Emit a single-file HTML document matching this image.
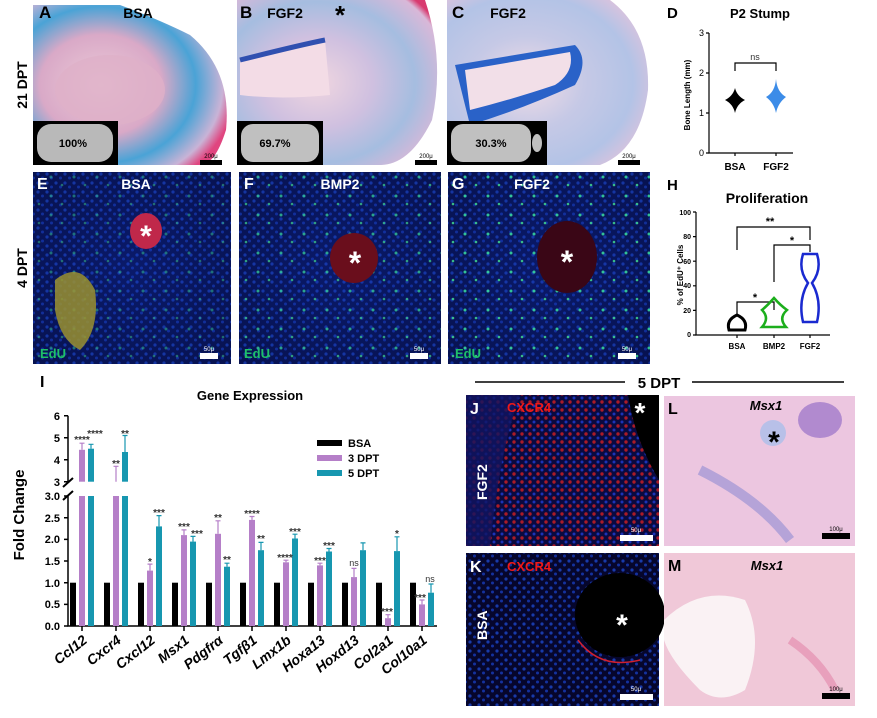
<!DOCTYPE html>
<html><head><meta charset="utf-8"><style>
body{margin:0;background:#fff;}
svg{display:block;font-family:"Liberation Sans",Arial,sans-serif;}
</style></head><body>
<svg width="877" height="718" viewBox="0 0 877 718" xmlns="http://www.w3.org/2000/svg">
<defs>
<radialGradient id="hA" cx="0.35" cy="0.5" r="0.7"><stop offset="0" stop-color="#eccbd8"/><stop offset="0.45" stop-color="#d9a9c7"/><stop offset="0.7" stop-color="#4aa3d6"/><stop offset="0.9" stop-color="#c9b3d6"/><stop offset="1" stop-color="#e0457f"/></radialGradient>
<radialGradient id="hB" cx="0.4" cy="0.5" r="0.7"><stop offset="0" stop-color="#f0d6e0"/><stop offset="0.4" stop-color="#cfc0e0"/><stop offset="0.7" stop-color="#a5bde0"/><stop offset="0.95" stop-color="#d9b8d8"/><stop offset="1" stop-color="#d83a6f"/></radialGradient>
<radialGradient id="hC" cx="0.4" cy="0.5" r="0.7"><stop offset="0" stop-color="#f2dde6"/><stop offset="0.4" stop-color="#c6c9e6"/><stop offset="0.75" stop-color="#b3c3e6"/><stop offset="0.95" stop-color="#dcc3dd"/><stop offset="1" stop-color="#d84a7a"/></radialGradient>
<radialGradient id="fl" cx="0.5" cy="0.5" r="0.7"><stop offset="0" stop-color="#0a1a6a"/><stop offset="1" stop-color="#071250"/></radialGradient>
<pattern id="dots" width="9" height="9" patternUnits="userSpaceOnUse"><circle cx="2" cy="3" r="1.6" fill="#2050e0"/><circle cx="6.5" cy="7" r="1.5" fill="#1a44d0"/></pattern>
<pattern id="gdots" width="23" height="19" patternUnits="userSpaceOnUse"><circle cx="5" cy="6" r="1.5" fill="#39e0a0"/><circle cx="16" cy="14" r="1.3" fill="#40d890"/></pattern>
<pattern id="rdots" width="8" height="8" patternUnits="userSpaceOnUse"><circle cx="2" cy="2" r="1.7" fill="#e02020"/><circle cx="6" cy="6" r="1.5" fill="#2040e0"/></pattern>
</defs>

<!-- Row 1 histology -->
<rect x="33" y="5" width="200" height="160" fill="#fff"/>
<path d="M33 5 L120 5 Q160 20 190 35 Q232 70 226 130 Q215 165 200 165 L33 165 Z" fill="url(#hA)"/>
<ellipse cx="110" cy="90" rx="55" ry="35" fill="#dfb0c8" opacity="0.8"/>
<rect x="33" y="121" width="85" height="44" fill="#000"/>
<rect x="37" y="124" width="76" height="38" rx="14" fill="#b9b9b9"/>
<text x="73" y="147" font-size="11" font-weight="bold" text-anchor="middle">100%</text>
<text x="39" y="18" font-size="17" font-weight="bold">A</text>
<text x="138" y="18" font-size="14" font-weight="bold" text-anchor="middle">BSA</text>
<rect x="200" y="160" width="22" height="5" fill="#000"/><text x="211" y="158" font-size="6" text-anchor="middle">200μ</text>

<rect x="237" y="0" width="203" height="165" fill="#fff"/>
<path d="M237 0 L425 0 Q445 60 432 120 Q410 165 380 165 L237 165 Z" fill="url(#hB)"/>
<path d="M240 60 Q300 45 325 40 L330 95 Q280 100 240 95 Z" fill="#f3dce6"/>
<path d="M240 60 Q300 45 325 40" stroke="#3050b0" stroke-width="5" fill="none"/>
<rect x="237" y="121" width="86" height="44" fill="#000"/>
<rect x="241" y="124" width="78" height="38" rx="12" fill="#c0c0c0"/>
<text x="275" y="147" font-size="11" font-weight="bold" text-anchor="middle">69.7%</text>
<text x="240" y="18" font-size="17" font-weight="bold">B</text>
<text x="285" y="18" font-size="14" font-weight="bold" text-anchor="middle">FGF2</text>
<text x="340" y="24" font-size="26" font-weight="bold" text-anchor="middle">*</text>
<rect x="415" y="160" width="22" height="5" fill="#000"/><text x="426" y="158" font-size="6" text-anchor="middle">200μ</text>

<rect x="447" y="0" width="203" height="165" fill="#fff"/>
<path d="M447 0 L610 0 Q650 30 648 90 Q640 150 600 165 L447 165 Z" fill="url(#hC)"/>
<path d="M455 65 L575 45 Q590 60 575 85 Q520 110 470 125 Z" fill="#2a62c8"/>
<path d="M465 70 L570 52 Q575 72 555 85 Q510 100 470 110 Z" fill="#f2dfe8"/>
<rect x="447" y="121" width="100" height="44" fill="#000"/>
<rect x="451" y="124" width="80" height="38" rx="12" fill="#c0c0c0"/>
<ellipse cx="537" cy="143" rx="5" ry="9" fill="#c0c0c0"/>
<text x="491" y="147" font-size="11" font-weight="bold" text-anchor="middle">30.3%</text>
<text x="452" y="18" font-size="17" font-weight="bold">C</text>
<text x="508" y="18" font-size="14" font-weight="bold" text-anchor="middle">FGF2</text>
<rect x="618" y="160" width="22" height="5" fill="#000"/><text x="629" y="158" font-size="6" text-anchor="middle">200μ</text>

<text transform="translate(27,85) rotate(-90)" font-size="14" font-weight="bold" text-anchor="middle">21 DPT</text>
<text transform="translate(27,268) rotate(-90)" font-size="14" font-weight="bold" text-anchor="middle">4 DPT</text>

<!-- Row 2 fluorescence -->
<rect x="33" y="172" width="198" height="192" fill="url(#fl)"/><rect x="33" y="172" width="198" height="192" fill="url(#dots)" opacity="0.55"/><rect x="33" y="172" width="198" height="192" fill="url(#gdots)" opacity="0.45"/>
<path d="M55 280 Q80 260 95 290 Q100 330 80 350 Q60 340 55 310 Z" fill="#9a9030" opacity="0.85"/>
<ellipse cx="146" cy="231" rx="16" ry="18" fill="#c0284a"/>
<text x="146" y="246" font-size="30" font-weight="bold" fill="#fff" text-anchor="middle">*</text>
<text x="37" y="189" font-size="16" font-weight="bold" fill="#fff">E</text>
<text x="136" y="189" font-size="14" font-weight="bold" fill="#fff" text-anchor="middle">BSA</text>
<text x="40" y="358" font-size="13" font-weight="bold" fill="#1ec06a">EdU</text>
<rect x="200" y="353" width="18" height="6" fill="#fff"/><text x="209" y="351" font-size="6" fill="#fff" text-anchor="middle">50μ</text>

<rect x="239" y="172" width="202" height="192" fill="url(#fl)"/><rect x="239" y="172" width="202" height="192" fill="url(#dots)" opacity="0.55"/><rect x="239" y="172" width="202" height="192" fill="url(#gdots)" opacity="0.7"/>
<ellipse cx="354" cy="258" rx="24" ry="25" fill="#6a0e1c"/>
<text x="355" y="274" font-size="32" font-weight="bold" fill="#fff" text-anchor="middle">*</text>
<text x="244" y="189" font-size="16" font-weight="bold" fill="#fff">F</text>
<text x="340" y="189" font-size="14" font-weight="bold" fill="#fff" text-anchor="middle">BMP2</text>
<text x="244" y="358" font-size="13" font-weight="bold" fill="#1ec06a">EdU</text>
<rect x="410" y="353" width="18" height="6" fill="#fff"/><text x="419" y="351" font-size="6" fill="#fff" text-anchor="middle">50μ</text>

<rect x="448" y="172" width="202" height="192" fill="url(#fl)"/><rect x="448" y="172" width="202" height="192" fill="url(#dots)" opacity="0.55"/><rect x="448" y="172" width="202" height="192" fill="url(#gdots)" opacity="0.85"/>
<ellipse cx="567" cy="257" rx="30" ry="36" fill="#3a0616"/>
<text x="567" y="273" font-size="32" font-weight="bold" fill="#fff" text-anchor="middle">*</text>
<text x="452" y="189" font-size="16" font-weight="bold" fill="#fff">G</text>
<text x="532" y="189" font-size="14" font-weight="bold" fill="#fff" text-anchor="middle">FGF2</text>
<text x="455" y="358" font-size="13" font-weight="bold" fill="#1ec06a">EdU</text>
<rect x="618" y="353" width="18" height="6" fill="#fff"/><text x="627" y="351" font-size="6" fill="#fff" text-anchor="middle">50μ</text>

<!-- Panel D -->
<text x="667" y="18" font-size="15" font-weight="bold">D</text>
<text x="760" y="18" font-size="13" font-weight="bold" text-anchor="middle">P2 Stump</text>
<g stroke="#000" stroke-width="1.2" fill="none">
<path d="M709 33 V153 H793"/>
<path d="M706 33 H709 M706 73 H709 M706 113 H709 M706 153 H709"/>
<path d="M735 153 V156 M776 153 V156"/>
<path d="M735 71 V63 H776 V71"/>
</g>
<g font-size="9" text-anchor="end"><text x="704" y="36">3</text><text x="704" y="76">2</text><text x="704" y="116">1</text><text x="704" y="156">0</text></g>
<text x="755" y="60" font-size="9" text-anchor="middle" fill="#333">ns</text>
<path d="M735 88 Q737 96 745 100 Q737 104 735 113 Q733 104 725 100 Q733 96 735 88 Z" fill="#000"/>
<path d="M776 79 Q777 92 786 97 Q778 103 776 113 Q774 103 766 97 Q775 92 776 79 Z" fill="#3c8ce8"/>
<text x="735" y="170" font-size="10" font-weight="bold" text-anchor="middle">BSA</text>
<text x="776" y="170" font-size="10" font-weight="bold" text-anchor="middle">FGF2</text>
<text transform="translate(690,95) rotate(-90)" font-size="8" font-weight="bold" text-anchor="middle">Bone Length (mm)</text>

<!-- Panel H -->
<text x="667" y="190" font-size="15" font-weight="bold">H</text>
<text x="767" y="203" font-size="14" font-weight="bold" text-anchor="middle">Proliferation</text>
<g stroke="#000" stroke-width="1.2" fill="none">
<path d="M696 212 V335 H830"/>
<path d="M693 212 H696 M693 236.6 H696 M693 261.2 H696 M693 285.8 H696 M693 310.4 H696 M693 335 H696"/>
<path d="M737 335 V338 M774 335 V338 M810 335 V338"/>
<path d="M737 250 V227 H810 V240"/>
<path d="M774 282 V245 H810 V252"/>
<path d="M737 316 V302 H774 V310"/>
</g>
<g font-size="7" font-weight="bold" text-anchor="end"><text x="691" y="215">100</text><text x="691" y="239">80</text><text x="691" y="264">60</text><text x="691" y="288">40</text><text x="691" y="313">20</text><text x="691" y="337">0</text></g>
<text x="770" y="225" font-size="11" font-weight="bold" text-anchor="middle">**</text>
<text x="792" y="244" font-size="11" font-weight="bold" text-anchor="middle">*</text>
<text x="755" y="301" font-size="11" font-weight="bold" text-anchor="middle">*</text>
<path d="M737 315 Q748 320 745 330 L729 330 Q726 320 737 315 Z" fill="none" stroke="#000" stroke-width="3"/>
<path d="M774 298 Q780 305 787 310 Q778 318 786 327 L762 327 Q770 318 762 310 Q768 305 774 298 Z" fill="none" stroke="#1cae1c" stroke-width="2.5"/>
<path d="M803 254 H817 Q822 270 812 283 Q822 300 817 322 H803 Q798 300 808 283 Q798 270 803 254 Z" fill="none" stroke="#1a2ad0" stroke-width="2.5"/>
<text x="737" y="349" font-size="8" font-weight="bold" text-anchor="middle">BSA</text>
<text x="774" y="349" font-size="8" font-weight="bold" text-anchor="middle">BMP2</text>
<text x="810" y="349" font-size="8" font-weight="bold" text-anchor="middle">FGF2</text>
<text transform="translate(683,275) rotate(-90)" font-size="8" font-weight="bold" text-anchor="middle">% of EdU⁺ Cells</text>

<!-- Panel I -->
<text x="40" y="387" font-size="16" font-weight="bold">I</text>
<text x="250" y="400" font-size="13" font-weight="bold" text-anchor="middle">Gene Expression</text>
<text transform="translate(24,515) rotate(-90)" font-size="15" font-weight="bold" text-anchor="middle">Fold Change</text>
<g stroke="#000" stroke-width="1.5" fill="none">
<path d="M68 415.7 V482 M68 495 V626 H437"/>
<path d="M64 415.7 H68 M64 437.7 H68 M64 459.7 H68 M64 481.7 H68"/>
<path d="M64 496 H68 M64 517.7 H68 M64 539.4 H68 M64 561 H68 M64 582.7 H68 M64 604.4 H68 M64 626 H68"/>
<path d="M63 487 L73 478 M63 500 L73 491" stroke-width="2"/>
<path d="M82 626 V631 M116 626 V631 M150 626 V631 M184 626 V631 M218 626 V631 M252 626 V631 M286 626 V631 M320 626 V631 M354 626 V631 M388 626 V631 M422 626 V631"/>
</g>
<g font-size="11" font-weight="bold" text-anchor="end">
<text x="60" y="420">6</text><text x="60" y="442">5</text><text x="60" y="464">4</text><text x="60" y="486">3</text>
<text x="60" y="500">3.0</text><text x="60" y="522">2.5</text><text x="60" y="543">2.0</text><text x="60" y="565">1.5</text><text x="60" y="587">1.0</text><text x="60" y="608">0.5</text><text x="60" y="630">0.0</text>
</g>
<g fill="#000">
<rect x="70" y="582.7" width="6" height="43.3"/><rect x="104" y="582.7" width="6" height="43.3"/><rect x="138" y="582.7" width="6" height="43.3"/><rect x="172" y="582.7" width="6" height="43.3"/><rect x="206" y="582.7" width="6" height="43.3"/><rect x="240" y="582.7" width="6" height="43.3"/><rect x="274" y="582.7" width="6" height="43.3"/><rect x="308" y="582.7" width="6" height="43.3"/><rect x="342" y="582.7" width="6" height="43.3"/><rect x="376" y="582.7" width="6" height="43.3"/><rect x="410" y="582.7" width="6" height="43.3"/>
</g>
<g fill="#b57fc8">
<rect x="79" y="449.8" width="6" height="31.9"/><rect x="79" y="496" width="6" height="130"/>
<rect x="113" y="496" width="6" height="130"/>
<rect x="147" y="570.6" width="6" height="55.4"/>
<rect x="181" y="535.1" width="6" height="90.9"/>
<rect x="215" y="533.8" width="6" height="92.2"/>
<rect x="249" y="519.9" width="6" height="106.1"/>
<rect x="283" y="562.3" width="6" height="63.7"/>
<rect x="317" y="565.4" width="6" height="60.6"/>
<rect x="351" y="577.1" width="6" height="48.9"/>
<rect x="385" y="618.2" width="6" height="7.8"/>
<rect x="419" y="604.4" width="6" height="21.6"/>
</g>
<g stroke="#b57fc8" stroke-width="1.2">
<path d="M82 449.8 V443.2 M79.5 443.2 H84.5"/><path d="M116 481.7 V466.3 M113.5 466.3 H118.5"/><path d="M150 570.6 V564.1 M147.5 564.1 H152.5"/><path d="M184 535.1 V529.9 M181.5 529.9 H186.5"/><path d="M218 533.8 V520.8 M215.5 520.8 H220.5"/><path d="M252 519.9 V516.5 M249.5 516.5 H254.5"/><path d="M286 562.3 V560.2 M283.5 560.2 H288.5"/><path d="M320 565.4 V563.2 M317.5 563.2 H322.5"/><path d="M354 577.1 V568.4 M351.5 568.4 H356.5"/><path d="M388 618.2 V614.7 M385.5 614.7 H390.5"/><path d="M422 604.4 V600 M419.5 600 H424.5"/>
</g>
<g fill="#1797b0">
<rect x="88" y="448.7" width="6" height="33"/><rect x="88" y="496" width="6" height="130"/>
<rect x="122" y="452" width="6" height="29.7"/><rect x="122" y="496" width="6" height="130"/>
<rect x="156" y="526.4" width="6" height="99.6"/>
<rect x="190" y="541.6" width="6" height="84.4"/>
<rect x="224" y="566.7" width="6" height="59.3"/>
<rect x="258" y="550.2" width="6" height="75.8"/>
<rect x="292" y="538.5" width="6" height="87.5"/>
<rect x="326" y="551.5" width="6" height="74.5"/>
<rect x="360" y="550.2" width="6" height="75.8"/>
<rect x="394" y="551.1" width="6" height="74.9"/>
<rect x="428" y="592.7" width="6" height="33.3"/>
</g>
<g stroke="#1797b0" stroke-width="1.2">
<path d="M91 448.7 V444.3 M88.5 444.3 H93.5"/><path d="M125 452 V435.5 M122.5 435.5 H127.5"/><path d="M159 526.4 V515.6 M156.5 515.6 H161.5"/><path d="M193 541.6 V536.4 M190.5 536.4 H195.5"/><path d="M227 566.7 V563.2 M224.5 563.2 H229.5"/><path d="M261 550.2 V542.4 M258.5 542.4 H263.5"/><path d="M295 538.5 V534.2 M292.5 534.2 H297.5"/><path d="M329 551.5 V548.5 M326.5 548.5 H331.5"/><path d="M363 550.2 V542.9 M360.5 542.9 H365.5"/><path d="M397 551.1 V536.8 M394.5 536.8 H399.5"/><path d="M431 592.7 V584 M428.5 584 H433.5"/>
</g>
<g font-size="10" font-weight="bold" fill="#333" text-anchor="middle">
<text x="82" y="443">****</text><text x="95" y="437">****</text>
<text x="116" y="467">**</text><text x="125" y="437">**</text>
<text x="150" y="565">*</text><text x="159" y="516">***</text>
<text x="184" y="530">***</text><text x="197" y="537">***</text>
<text x="218" y="521">**</text><text x="227" y="563">**</text>
<text x="252" y="517">****</text><text x="261" y="542">**</text>
<text x="285" y="561">****</text><text x="295" y="535">***</text>
<text x="320" y="564">***</text><text x="329" y="549">***</text>
<text x="387" y="615">***</text><text x="397" y="537">*</text>
<text x="420" y="601">***</text>
</g>
<text x="354" y="566" font-size="9" fill="#333" text-anchor="middle">ns</text>
<text x="430" y="582" font-size="9" fill="#333" text-anchor="middle">ns</text>
<rect x="317" y="440" width="25" height="6" fill="#000"/><text x="348" y="447" font-size="11" font-weight="bold">BSA</text>
<rect x="317" y="455" width="25" height="6" fill="#b57fc8"/><text x="348" y="462" font-size="11" font-weight="bold">3 DPT</text>
<rect x="317" y="470" width="25" height="6" fill="#1797b0"/><text x="348" y="477" font-size="11" font-weight="bold">5 DPT</text>
<g font-size="14" font-weight="bold" font-style="italic" text-anchor="end">
<text transform="translate(88,642) rotate(-38)">Ccl12</text>
<text transform="translate(122,642) rotate(-38)">Cxcr4</text>
<text transform="translate(156,642) rotate(-38)">Cxcl12</text>
<text transform="translate(190,642) rotate(-38)">Msx1</text>
<text transform="translate(224,642) rotate(-38)">Pdgfrα</text>
<text transform="translate(258,642) rotate(-38)">Tgfβ1</text>
<text transform="translate(292,642) rotate(-38)">Lmx1b</text>
<text transform="translate(326,642) rotate(-38)">Hoxa13</text>
<text transform="translate(360,642) rotate(-38)">Hoxd13</text>
<text transform="translate(394,642) rotate(-38)">Col2a1</text>
<text transform="translate(428,642) rotate(-38)">Col10a1</text>
</g>

<line x1="475" y1="382" x2="625" y2="382" stroke="#000" stroke-width="1.5"/>
<line x1="692" y1="382" x2="844" y2="382" stroke="#000" stroke-width="1.5"/>
<text x="659" y="388" font-size="15" font-weight="bold" text-anchor="middle">5 DPT</text>

<!-- J -->
<rect x="466" y="395" width="193" height="151" fill="#0a0a40"/>
<rect x="466" y="395" width="193" height="151" fill="url(#rdots)" opacity="0.75"/>
<path d="M466 395 H520 Q500 450 490 546 H466 Z" fill="#101460" opacity="0.8"/>
<path d="M628 395 H659 V480 Q635 440 628 395 Z" fill="#000"/>
<text x="470" y="414" font-size="16" font-weight="bold" fill="#fff">J</text>
<text x="507" y="412" font-size="13" font-weight="bold" fill="#f01818">CXCR4</text>
<text x="640" y="422" font-size="28" font-weight="bold" fill="#fff" text-anchor="middle">*</text>
<text transform="translate(487,500) rotate(-90)" font-size="14" font-weight="bold" fill="#fff">FGF2</text>
<rect x="620" y="535" width="33" height="6" fill="#fff"/><text x="636" y="532" font-size="6" fill="#fff" text-anchor="middle">50μ</text>

<!-- L -->
<rect x="664" y="396" width="191" height="150" fill="#ecc6e0"/>
<ellipse cx="820" cy="420" rx="22" ry="18" fill="#9870c8" opacity="0.7"/>
<path d="M700 470 Q760 500 790 540" stroke="#7d80d0" stroke-width="10" fill="none" opacity="0.5"/>
<circle cx="773" cy="433" r="13" fill="#b8c0e8"/>
<text x="774" y="452" font-size="30" font-weight="bold" text-anchor="middle">*</text>
<text x="668" y="414" font-size="16" font-weight="bold">L</text>
<text x="766" y="410" font-size="13" font-weight="bold" font-style="italic" text-anchor="middle">Msx1</text>
<rect x="822" y="533" width="28" height="6" fill="#000"/><text x="836" y="531" font-size="6" text-anchor="middle">100μ</text>

<!-- K -->
<rect x="466" y="553" width="193" height="153" fill="#06062c"/>
<rect x="466" y="553" width="193" height="153" fill="url(#dots)" opacity="0.7"/>
<ellipse cx="620" cy="615" rx="45" ry="42" fill="#000"/>
<path d="M578 640 Q600 670 640 660" stroke="#d02030" stroke-width="1.5" fill="none"/>
<text x="622" y="635" font-size="30" font-weight="bold" fill="#fff" text-anchor="middle">*</text>
<text x="470" y="572" font-size="16" font-weight="bold" fill="#fff">K</text>
<text x="507" y="571" font-size="13" font-weight="bold" fill="#f01818">CXCR4</text>
<text transform="translate(487,640) rotate(-90)" font-size="14" font-weight="bold" fill="#fff">BSA</text>
<rect x="620" y="694" width="33" height="6" fill="#fff"/><text x="636" y="691" font-size="6" fill="#fff" text-anchor="middle">50μ</text>

<!-- M -->
<rect x="664" y="553" width="191" height="153" fill="#f0c8d8"/>
<path d="M664 620 Q700 585 745 600 Q765 640 745 690 Q720 705 700 690 Q670 660 664 640 Z" fill="#faf2f4"/>
<path d="M790 640 Q820 660 835 690" stroke="#e8a0bc" stroke-width="8" fill="none"/>
<text x="668" y="571" font-size="16" font-weight="bold">M</text>
<text x="767" y="570" font-size="13" font-weight="bold" font-style="italic" text-anchor="middle">Msx1</text>
<rect x="822" y="693" width="28" height="6" fill="#000"/><text x="836" y="691" font-size="6" text-anchor="middle">100μ</text>
</svg>
</body></html>
